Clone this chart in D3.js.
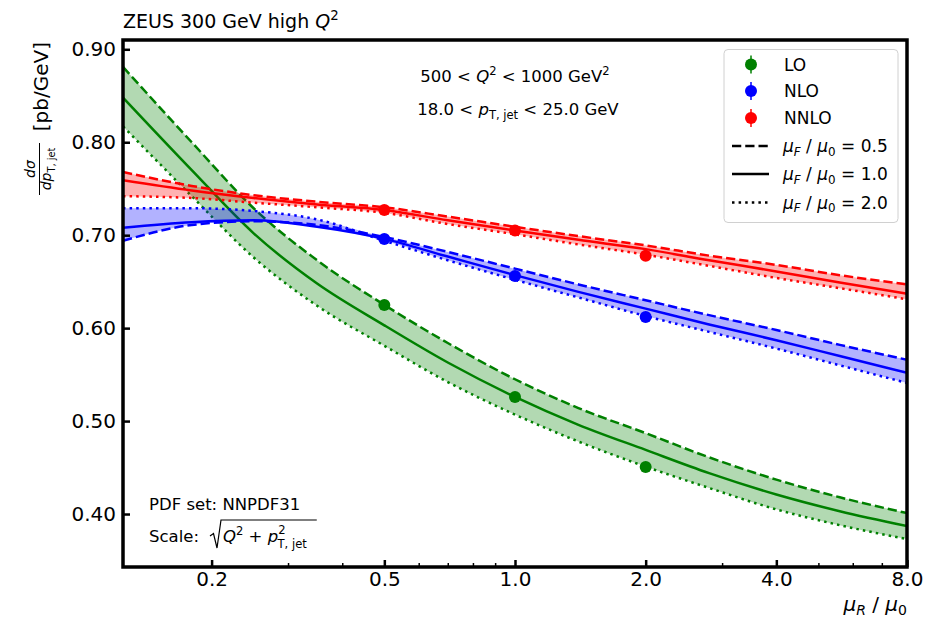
<!DOCTYPE html>
<html><head><meta charset="utf-8">
<script src="https://cdn.jsdelivr.net/npm/d3@7"></script>
<style>
body{margin:0;background:#fff;}
svg{display:block;font-family:"DejaVu Sans",sans-serif;}
</style></head>
<body><svg id="c" width="940" height="623"></svg>
<script>
// ---------- data ----------
const muR = [0.125, 0.18, 0.25, 0.35, 0.5, 0.7, 1.0, 1.4, 2.0, 2.8, 4.0, 5.6, 8.0];
const LO_muF05   = [0.881, 0.800, 0.729, 0.673, 0.625, 0.584, 0.545, 0.514, 0.487, 0.461, 0.437, 0.418, 0.401];
const LO_muF10   = [0.848, 0.770, 0.702, 0.648, 0.603, 0.563, 0.526, 0.496, 0.469, 0.444, 0.421, 0.403, 0.387];
const LO_muF20   = [0.817, 0.742, 0.676, 0.624, 0.581, 0.542, 0.507, 0.478, 0.451, 0.428, 0.405, 0.388, 0.373];
const NLO_muF05  = [0.694, 0.711, 0.715, 0.711, 0.698, 0.682, 0.664, 0.647, 0.630, 0.614, 0.598, 0.582, 0.566];
const NLO_muF10  = [0.708, 0.714, 0.716, 0.709, 0.696, 0.677, 0.657, 0.639, 0.621, 0.604, 0.587, 0.570, 0.552];
const NLO_muF20  = [0.729, 0.729, 0.726, 0.717, 0.694, 0.673, 0.652, 0.633, 0.613, 0.596, 0.578, 0.560, 0.541];
const NNLO_muF05 = [0.768, 0.753, 0.743, 0.736, 0.730, 0.720, 0.709, 0.699, 0.689, 0.678, 0.668, 0.657, 0.647];
const NNLO_muF10 = [0.759, 0.748, 0.740, 0.733, 0.727, 0.716, 0.705, 0.695, 0.685, 0.673, 0.661, 0.649, 0.637];
const NNLO_muF20 = [0.742, 0.740, 0.735, 0.730, 0.724, 0.712, 0.701, 0.690, 0.679, 0.667, 0.654, 0.643, 0.631];
const pointMu = [0.5, 1.0, 2.0];
const LO_points   = [0.625, 0.526, 0.4505];
const NLO_points  = [0.696, 0.656, 0.612];
const NNLO_points = [0.727, 0.705, 0.678];
const orders = ["LO", "NLO", "NNLO"];
const orderColors = ["#008000", "#0000ff", "#ff0000"];
const muFLabels = ["0.5", "1.0", "2.0"];
const xMajor = [0.2, 0.5, 1.0, 2.0, 4.0, 8.0];
const xMajorLabels = ["0.2", "0.5", "1.0", "2.0", "4.0", "8.0"];
const xMinor = [0.3, 0.4, 0.6, 0.7, 0.8, 0.9, 3, 5, 6, 7];
const yTicks = [0.40, 0.50, 0.60, 0.70, 0.80, 0.90];

// ---------- setup ----------
const svg = d3.select("#c");
const L = 123, R = 907, T = 40, B = 567;
const x = d3.scaleLog().domain([0.125, 8]).range([L, R]);
const y = d3.scaleLinear().domain([0.343, 0.910]).range([B, T]);
const FF = "DejaVu Sans";

svg.append("defs").append("clipPath").attr("id", "clip")
  .append("rect").attr("x", L).attr("y", T).attr("width", R - L).attr("height", B - T);
const plot = svg.append("g").attr("clip-path", "url(#clip)");

const series = [
  {curves: [LO_muF05, LO_muF10, LO_muF20], pts: LO_points},
  {curves: [NLO_muF05, NLO_muF10, NLO_muF20], pts: NLO_points},
  {curves: [NNLO_muF05, NNLO_muF10, NNLO_muF20], pts: NNLO_points}
];
const dashes = ["9.25,4", null, "2.5,4.1"];
const LW = 2.5;

series.forEach((s, i) => {
  const col = orderColors[i];
  const rows = muR.map((m, k) => ({m, lo: d3.min(s.curves, c => c[k]), hi: d3.max(s.curves, c => c[k])}));
  const area = d3.area().x(d => x(d.m)).y0(d => y(d.lo)).y1(d => y(d.hi)).curve(d3.curveMonotoneX);
  plot.append("path").attr("d", area(rows)).attr("fill", col).attr("fill-opacity", 0.3).attr("stroke", "none");
  s.curves.forEach((c, j) => {
    const line = d3.line().x((d, k) => x(muR[k])).y(d => y(d)).curve(d3.curveMonotoneX);
    plot.append("path").attr("d", line(c)).attr("fill", "none").attr("stroke", col)
      .attr("stroke-width", LW).attr("stroke-dasharray", dashes[j]);
  });
});
series.forEach((s, i) => {
  plot.selectAll(null).data(s.pts).enter().append("circle")
    .attr("cx", (d, k) => x(pointMu[k])).attr("cy", d => y(d)).attr("r", 6)
    .attr("fill", orderColors[i]);
});

// ---------- axes ----------
const xAxis = d3.axisBottom(x).tickValues(xMajor).tickFormat((d, i) => xMajorLabels[i])
  .tickSizeInner(-7).tickSizeOuter(0).tickPadding(5);
const gx = svg.append("g").attr("transform", `translate(0,${B})`).call(xAxis);
const xAxisMinor = d3.axisBottom(x).tickValues(xMinor).tickFormat("").tickSizeInner(-4).tickSizeOuter(0);
const gxm = svg.append("g").attr("transform", `translate(0,${B})`).call(xAxisMinor);
const yAxis = d3.axisLeft(y).tickValues(yTicks).tickFormat(d3.format(".2f"))
  .tickSizeInner(-7).tickSizeOuter(0).tickPadding(7);
const gy = svg.append("g").attr("transform", `translate(${L},0)`).call(yAxis);
[gx, gxm, gy].forEach(g => {
  g.select(".domain").remove();
  g.selectAll(".tick line").attr("stroke", "#000").attr("stroke-width", 2.5);
  g.selectAll("text").attr("font-family", FF).attr("font-size", 20).attr("fill", "#000");
});
gxm.selectAll(".tick line").attr("stroke-width", 1.5);

// frame
svg.append("rect").attr("x", L).attr("y", T).attr("width", R - L).attr("height", B - T)
  .attr("fill", "none").attr("stroke", "#000").attr("stroke-width", 3.5);

// ---------- text helper ----------
function runs(textSel, parts, fs) {
  let cur = 0;
  parts.forEach(p => {
    const size = p.sub || p.sup ? fs * 0.7 : fs;
    const target = p.sub ? fs * (p.subShift || 0.22) : (p.sup ? -fs * (p.supShift || 0.42) : 0);
    const ts = textSel.append("tspan").text(p.t).attr("font-size", size)
      .attr("dy", target - cur);
    if (p.it) ts.attr("font-style", "italic");
    if (p.dx) ts.attr("dx", p.dx);
    cur = target;
  });
  return textSel;
}

// title
runs(svg.append("text").attr("x", L).attr("y", 28).attr("font-size", 19),
  [{t: "ZEUS 300 GeV high "}, {t: "Q", it: true}, {t: "2", sup: true}], 19);

// x label
runs(svg.append("text").attr("x", R).attr("y", 611).attr("text-anchor", "end").attr("font-size", 20),
  [{t: "μ", it: true}, {t: "R", it: true, sub: true}, {t: " / "}, {t: "μ", it: true}, {t: "0", sub: true}], 20);

// y label (rotated, aligned to top)
const yl = svg.append("g").attr("transform", `translate(0,${T}) rotate(-90)`);
yl.append("text").attr("x", -2).attr("y", 48).attr("text-anchor", "end").attr("font-size", 20).text("[pb/GeV]");
const fc = -129;
runs(yl.append("text").attr("x", fc).attr("y", 35).attr("text-anchor", "middle").attr("font-size", 14),
  [{t: "dσ", it: true}], 14);
yl.append("line").attr("x1", fc - 26).attr("x2", fc + 26).attr("y1", 39.5).attr("y2", 39.5)
  .attr("stroke", "#000").attr("stroke-width", 1);
runs(yl.append("text").attr("x", fc).attr("y", 51).attr("text-anchor", "middle").attr("font-size", 14),
  [{t: "dp", it: true}, {t: "T, jet", sub: true, subShift: 0.25}], 14);

// annotations
runs(svg.append("text").attr("x", 515).attr("y", 82).attr("text-anchor", "middle").attr("font-size", 16.5),
  [{t: "500 < "}, {t: "Q", it: true}, {t: "2", sup: true}, {t: " < 1000 GeV"}, {t: "2", sup: true}], 16.5);
runs(svg.append("text").attr("x", 518).attr("y", 115).attr("text-anchor", "middle").attr("font-size", 16.5),
  [{t: "18.0 < "}, {t: "p", it: true}, {t: "T, jet", sub: true}, {t: " < 25.0 GeV"}], 16.5);

svg.append("text").attr("x", 149).attr("y", 510).attr("font-size", 16.5).text("PDF set: NNPDF31");
svg.append("text").attr("x", 149).attr("y", 542).attr("font-size", 16.5).text("Scale:");
const sq = runs(svg.append("text").attr("x", 223).attr("y", 542).attr("font-size", 16.5),
  [{t: "Q", it: true}, {t: "2", sup: true}, {t: " + "}, {t: "p", it: true}, {t: "2", sup: true, supShift: 0.5},
   {t: "T, jet", sub: true, subShift: 0.34, dx: -8}], 16.5);
const sqW = sq.node().getComputedTextLength();
svg.append("path").attr("d", `M210,536 L213.5,533.5 L217,548 L221,520 L${223 + sqW + 2},520`)
  .attr("fill", "none").attr("stroke", "#000").attr("stroke-width", 1.2);

// ---------- legend ----------
const lg = svg.append("g");
lg.append("rect").attr("x", 724).attr("y", 49.5).attr("width", 174).attr("height", 173).attr("rx", 4)
  .attr("fill", "#fff").attr("fill-opacity", 0.8).attr("stroke", "#d0d0d0").attr("stroke-width", 1);
const legY = [64.5, 91, 118, 146, 174, 202.5];
orders.forEach((o, i) => {
  lg.append("line").attr("x1", 751).attr("x2", 751).attr("y1", legY[i] - 9).attr("y2", legY[i] + 9)
    .attr("stroke", orderColors[i]).attr("stroke-width", 1.5);
  lg.append("circle").attr("cx", 751).attr("cy", legY[i]).attr("r", 6).attr("fill", orderColors[i]);
  lg.append("text").attr("x", 784).attr("y", legY[i] + 6).attr("font-size", 17).text(o);
});
muFLabels.forEach((m, j) => {
  const yy = legY[3 + j];
  lg.append("line").attr("x1", 732).attr("x2", 769).attr("y1", yy).attr("y2", yy)
    .attr("stroke", "#000").attr("stroke-width", LW).attr("stroke-dasharray", dashes[j]);
  runs(lg.append("text").attr("x", 783).attr("y", yy + 6).attr("font-size", 17),
    [{t: "μ", it: true}, {t: "F", it: true, sub: true}, {t: " / "}, {t: "μ", it: true}, {t: "0", sub: true},
     {t: " = " + m}], 17);
});
</script></body></html>
